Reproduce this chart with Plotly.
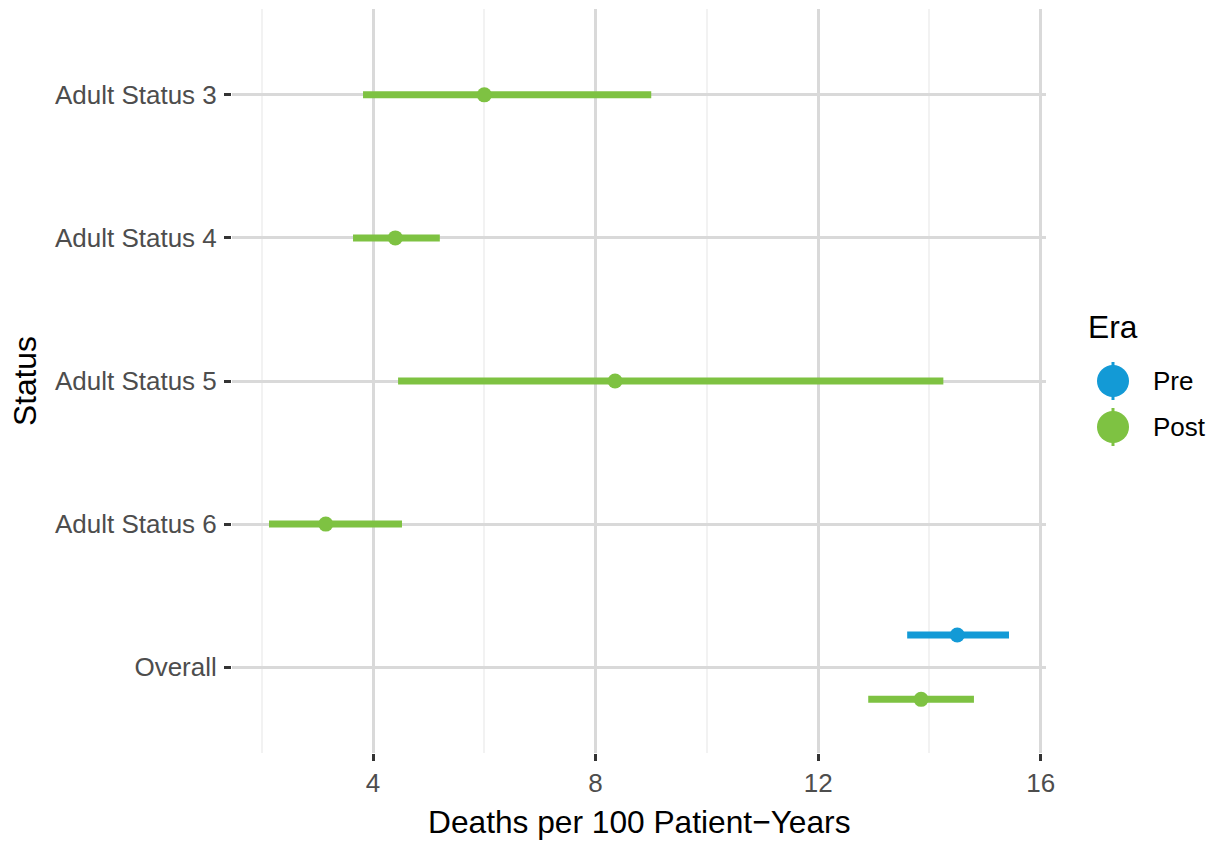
import plotly.graph_objects as go

# Mortality rates (deaths per 100 patient-years) with 95% intervals
statuses = ["Adult Status 3", "Adult Status 4", "Adult Status 5", "Adult Status 6", "Overall"]
eras = ["Pre", "Post"]

row_status = ["Adult Status 3", "Adult Status 4", "Adult Status 5", "Adult Status 6", "Overall", "Overall"]
row_era = ["Post", "Post", "Post", "Post", "Pre", "Post"]
rate = [6.0, 4.4, 8.35, 3.15, 14.5, 13.85]
lower = [3.82, 3.64, 4.45, 2.13, 13.6, 12.9]
upper = [9.0, 5.2, 14.25, 4.52, 15.43, 14.8]

x_ticks = [4, 8, 12, 16]
x_minor = [2, 6, 10, 14]

era_colors = {"Pre": "#139AD6", "Post": "#7EC242"}

FONT = "Liberation Sans, Arial, Helvetica, sans-serif"

# discrete y positions, first status on top
ypos = {s: len(statuses) - i for i, s in enumerate(statuses)}

# dodge groups sharing one status (total width 0.9)
def dodge(i):
    s = row_status[i]
    present = [e for e in eras if any(row_status[j] == s and row_era[j] == e for j in range(len(row_status)))]
    n = len(present)
    k = present.index(row_era[i])
    return ypos[s] + ((n - 1) / 2 - k) * 0.9 / n

fig = go.Figure()

for era in eras:
    idx = [i for i in range(len(rate)) if row_era[i] == era]
    xs, ys = [], []
    for i in idx:
        y = dodge(i)
        xs += [lower[i], upper[i], None]
        ys += [y, y, None]
    fig.add_trace(go.Scatter(x=xs, y=ys, mode="lines",
                             line=dict(color=era_colors[era], width=7),
                             showlegend=False, hoverinfo="skip"))
    fig.add_trace(go.Scatter(x=[rate[i] for i in idx], y=[dodge(i) for i in idx],
                             mode="markers", name=era,
                             marker=dict(color=era_colors[era], size=15, line=dict(width=0)),
                             showlegend=False))

L, R, T, B = 232, 168, 9, 89
W, H = 1214, 842
pw, ph = W - L - R, H - T - B

def px_x(p):
    return (p - L) / pw

def px_y(p):
    return (H - B - p) / ph

annotations = [
    dict(text="Deaths per 100 Patient\u2212Years", x=0.5, y=px_y(822), xref="paper", yref="paper",
         showarrow=False, xanchor="center", yanchor="middle", font=dict(family=FONT, size=31.7, color="black")),
    dict(text="Status", x=px_x(25), y=0.5, xref="paper", yref="paper", textangle=-90,
         showarrow=False, xanchor="center", yanchor="middle", font=dict(family=FONT, size=31.7, color="black")),
    dict(text="Era", x=px_x(1086), y=px_y(327), xref="paper", yref="paper",
         showarrow=False, xanchor="left", yanchor="middle", font=dict(family=FONT, size=31.7, color="black")),
]

shapes = []
legend_y = {"Pre": 381, "Post": 427}
for era in eras:
    cy = px_y(legend_y[era])
    cx = px_x(1113)
    shapes.append(dict(type="line", xref="paper", yref="paper", xsizemode="pixel", ysizemode="pixel",
                       xanchor=cx, yanchor=cy, x0=0, x1=0, y0=-19, y1=19,
                       line=dict(color=era_colors[era], width=3)))
    shapes.append(dict(type="circle", xref="paper", yref="paper", xsizemode="pixel", ysizemode="pixel",
                       xanchor=cx, yanchor=cy, x0=-16, x1=16, y0=-16, y1=16,
                       fillcolor=era_colors[era], line=dict(width=0)))
    annotations.append(dict(text=era, x=px_x(1151), y=cy, xref="paper", yref="paper",
                            showarrow=False, xanchor="left", yanchor="middle",
                            font=dict(family=FONT, size=26, color="black")))

fig.update_layout(
    width=W, height=H,
    margin=dict(l=L, r=R, t=T, b=B, pad=0),
    paper_bgcolor="white", plot_bgcolor="white",
    showlegend=False,
    annotations=annotations,
    shapes=shapes,
    xaxis=dict(range=[1.465, 16.095], tickvals=x_ticks, ticktext=[str(v) for v in x_ticks],
               showgrid=True, gridcolor="#D9D9D9", gridwidth=2.5, zeroline=False, showline=False,
               ticks="outside", ticklen=7, tickwidth=2.5, tickcolor="#333333",
               ticklabelstandoff=0,
               tickfont=dict(family=FONT, size=26, color="#4D4D4D"),
               minor=dict(tickvals=x_minor, showgrid=True, gridcolor="#F2F2F2", gridwidth=1.5, ticks=""),
               fixedrange=True),
    yaxis=dict(range=[0.4, 5.6], tickvals=[ypos[s] for s in statuses], ticktext=statuses,
               showgrid=True, gridcolor="#D9D9D9", gridwidth=2.5, zeroline=False, showline=False,
               ticks="outside", ticklen=7, tickwidth=2.5, tickcolor="#333333",
               ticklabelstandoff=2,
               tickfont=dict(family=FONT, size=26, color="#4D4D4D"),
               fixedrange=True),
)

fig.write_html("out.html")
